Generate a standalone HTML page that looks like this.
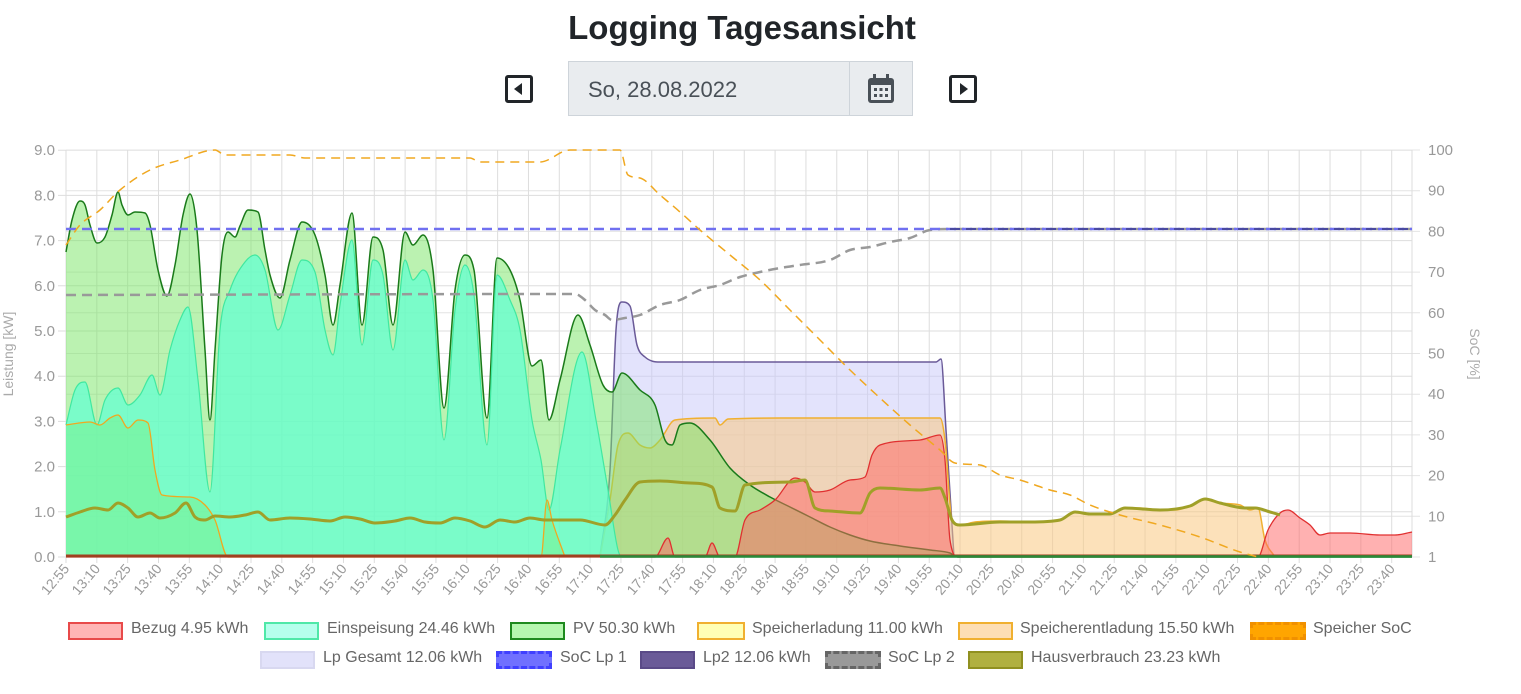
<!DOCTYPE html>
<html><head><meta charset="utf-8"><style>
body{margin:0;width:1521px;height:694px;background:#fff;font-family:"Liberation Sans",sans-serif;overflow:hidden;position:relative}
.t{position:absolute;left:0;width:1484px;text-align:center;top:9px;font-size:33px;font-weight:bold;color:#212529}
.db{position:absolute;left:568px;top:61px;width:345px;height:55px;background:#e9ecef;border:1px solid #ced4da;box-sizing:border-box}
.db span{position:absolute;left:19px;top:15px;font-size:22px;color:#495057}
.db .dv{position:absolute;left:280px;top:0;width:1px;height:53px;background:#ced4da}
.btn{position:absolute;top:75px;width:22px;height:22px;border:3px solid #212529;border-radius:3px}
.lg{position:absolute;font-size:16px;color:#666;white-space:nowrap}
.bx{position:absolute;width:51px;height:14px;border:2px solid}
</style></head><body>
<div class="t">Logging Tagesansicht</div>
<div class="btn" style="left:505px"><div style="position:absolute;left:6px;top:5px;border-right:8px solid #212529;border-top:6px solid transparent;border-bottom:6px solid transparent"></div></div>
<div class="db"><span>So, 28.08.2022</span><div class="dv"></div>
<svg style="position:absolute;left:297px;top:11px" width="30" height="32"><rect x="2" y="5" width="26" height="25" rx="3" fill="#495057"/><rect x="7" y="1" width="3" height="7" fill="#495057"/><rect x="20" y="1" width="3" height="7" fill="#495057"/><rect x="5" y="12" width="20" height="15" fill="#e9ecef"/><g fill="#495057"><rect x="8" y="15" width="3" height="3"/><rect x="13.5" y="15" width="3" height="3"/><rect x="19" y="15" width="3" height="3"/><rect x="8" y="21" width="3" height="3"/><rect x="13.5" y="21" width="3" height="3"/><rect x="19" y="21" width="3" height="3"/></g></svg></div>
<div class="btn" style="left:949px"><div style="position:absolute;left:8px;top:5px;border-left:8px solid #212529;border-top:6px solid transparent;border-bottom:6px solid transparent"></div></div>
<svg id="c" style="position:absolute;left:0;top:0" width="1521" height="694"></svg>
<div class="bx" style="left:68px;top:622px;background:rgba(255,120,120,.55);border-color:#e84a4a"></div><div class="lg" style="left:131px;top:620px">Bezug 4.95 kWh</div>
<div class="bx" style="left:264px;top:622px;background:rgba(120,255,220,.55);border-color:#4fe8a8"></div><div class="lg" style="left:327px;top:620px">Einspeisung 24.46 kWh</div>
<div class="bx" style="left:510px;top:622px;background:rgba(120,240,110,.55);border-color:#1e8a1e"></div><div class="lg" style="left:573px;top:620px">PV 50.30 kWh</div>
<div class="bx" style="left:697px;top:622px;width:44px;background:rgba(255,255,150,.7);border-color:#f0b030"></div><div class="lg" style="left:752px;top:620px">Speicherladung 11.00 kWh</div>
<div class="bx" style="left:958px;top:622px;background:rgba(252,200,130,.6);border-color:#f0b030"></div><div class="lg" style="left:1020px;top:620px">Speicherentladung 15.50 kWh</div>
<div class="bx" style="left:1250px;top:622px;background:#ffa500;border:3px dashed #f09000;height:12px;width:50px"></div><div class="lg" style="left:1313px;top:620px">Speicher SoC</div>
<div class="bx" style="left:260px;top:651px;background:#e2e2fa;border-color:#d8d8f0"></div><div class="lg" style="left:323px;top:649px">Lp Gesamt 12.06 kWh</div>
<div class="bx" style="left:496px;top:651px;background:#7070ff;border:3px dashed #4040ff;height:12px;width:50px"></div><div class="lg" style="left:560px;top:649px">SoC Lp 1</div>
<div class="bx" style="left:640px;top:651px;background:#6a5a98;border-color:#5a4a88"></div><div class="lg" style="left:703px;top:649px">Lp2 12.06 kWh</div>
<div class="bx" style="left:825px;top:651px;background:#999;border:3px dashed #666;height:12px;width:50px"></div><div class="lg" style="left:888px;top:649px">SoC Lp 2</div>
<div class="bx" style="left:968px;top:651px;background:#b0b040;border-color:#909020"></div><div class="lg" style="left:1031px;top:649px">Hausverbrauch 23.23 kWh</div>
<script>
var s=document.getElementById('c'),h='';
var L=66,R=1412,T=150,B=557;
for(var i=0;i<=9;i++){var y=B-45.2*i;h+='<line x1="'+(L-8)+'" x2="'+R+'" y1="'+y+'" y2="'+y+'" stroke="#ddd"/>';h+='<text x="55" y="'+(y+5)+'" text-anchor="end" font-size="15" fill="#999">'+i+'.0</text>';}
for(var i=0;i<=10;i++){var y=B-40.7*i;h+='<line x1="'+L+'" x2="'+(R+8)+'" y1="'+y+'" y2="'+y+'" stroke="#e4e4e4"/>';h+='<text x="1428" y="'+(y+5)+'" font-size="15" fill="#999">'+(i==0?1:i*10)+'</text>';}
for(var k=0;k<=43;k++){var x=L+k*30.83;var m=12*60+55+k*15;var lb=Math.floor(m/60)+':'+('0'+m%60).slice(-2);h+='<line x1="'+x+'" x2="'+x+'" y1="'+T+'" y2="'+(B+6)+'" stroke="#ddd"/>';h+='<text transform="translate('+(x+4)+','+(B+12)+') rotate(-50)" text-anchor="end" font-size="14" fill="#999">'+lb+'</text>';}
h+='<line x1="'+R+'" x2="'+R+'" y1="'+T+'" y2="'+B+'" stroke="#ddd"/>';
h+='<text transform="translate(13,354) rotate(-90)" text-anchor="middle" font-size="14" fill="#aaa">Leistung [kW]</text>';
h+='<text transform="translate(1470,354) rotate(90)" text-anchor="middle" font-size="14" fill="#aaa">SoC [%]</text>';
function P(p){var n=p.length,d=[],m=[];for(var i=0;i<n-1;i++)d[i]=(p[i+1][1]-p[i][1])/(p[i+1][0]-p[i][0]);
m[0]=d[0];m[n-1]=d[n-2];for(var i=1;i<n-1;i++){m[i]=(d[i-1]*d[i]<=0)?0:(d[i-1]+d[i])/2;}
for(var i=0;i<n-1;i++){if(d[i]==0){m[i]=0;m[i+1]=0;continue;}var a=m[i]/d[i],b=m[i+1]/d[i],q=a*a+b*b;if(q>9){var t=3/Math.sqrt(q);m[i]=t*a*d[i];m[i+1]=t*b*d[i];}}
var r='M'+p[0][0]+','+p[0][1];for(var i=0;i<n-1;i++){var dx=(p[i+1][0]-p[i][0])/3;r+=' C'+(p[i][0]+dx)+','+(p[i][1]+m[i]*dx)+' '+(p[i+1][0]-dx)+','+(p[i+1][1]-m[i+1]*dx)+' '+p[i+1][0]+','+p[i+1][1];}return r;}
function A(p,f,st,w,dash){var d=P(p);if(f)h+='<path d="'+d+' L'+p[p.length-1][0]+','+B+' L'+p[0][0]+','+B+'Z" fill="'+f+'"/>';if(st)h+='<path d="'+d+'" fill="none" stroke="'+st+'" stroke-width="'+w+'"'+(dash?' stroke-dasharray="'+dash+'"':'')+'/>';}
var pv=[[66,252],[72,220],[80,201],[85,205],[90,225],[97,243],[105,237],[112,215],[118,192],[122,205],[128,215],[135,212],[145,213],[150,225],[158,270],[167,296],[175,265],[183,215],[190,194],[197,230],[205,350],[210,420],[215,350],[222,255],[228,232],[235,237],[240,226],[248,210],[258,212],[265,250],[270,275],[280,298],[290,260],[302,222],[315,235],[325,275],[333,325],[340,285],[352,213],[362,325],[373,237],[383,250],[393,325],[405,232],[413,245],[423,235],[433,270],[444,408],[455,290],[465,255],[474,270],[487,418],[497,258],[510,270],[520,300],[532,366],[541,360],[549,420],[560,380],[578,315],[590,345],[603,385],[612,392],[622,373],[640,390],[655,405],[665,440],[672,445],[680,425],[690,423],[710,440],[730,468],[750,485],[770,497],[790,507],[810,517],[830,527],[850,535],[870,541],[900,546],[930,550],[950,553],[958,557],[1412,557]];
var ei=[[66,425],[75,390],[85,382],[97,425],[105,400],[118,388],[128,405],[140,395],[152,375],[160,395],[170,350],[180,320],[188,307],[198,380],[210,492],[220,330],[230,290],[245,262],[255,255],[265,270],[278,330],[290,295],[302,260],[315,272],[325,330],[333,355],[340,305],[352,240],[362,345],[373,260],[383,275],[393,350],[405,260],[413,280],[423,270],[433,300],[444,440],[455,310],[465,265],[474,295],[487,445],[497,275],[510,300],[520,330],[532,420],[541,460],[549,510],[560,450],[582,352],[596,420],[608,490],[618,550],[622,557],[1412,557]];
var sl=[[66,425],[90,422],[100,425],[110,418],[118,415],[128,428],[138,420],[148,423],[155,470],[162,495],[190,497],[205,505],[215,520],[228,557],[541,557],[547,500],[552,520],[565,557]];
var se=[[600,557],[610,500],[618,445],[628,433],[640,445],[650,448],[660,440],[675,420],[715,418],[720,425],[728,419],[780,418],[940,418],[945,440],[952,520],[960,525],[975,522],[1000,521],[1030,522],[1060,520],[1075,512],[1090,514],[1110,514],[1125,508],[1140,508],[1160,510],[1175,510],[1190,506],[1205,499],[1220,503],[1240,505],[1250,510],[1258,508],[1265,540],[1275,557]];
var lp=[[600,557],[610,470],[616,330],[622,302],[630,306],[637,345],[645,357],[660,362],[700,362],[760,362],[800,362],[860,362],[900,362],[936,362],[941,359],[946,430],[954,557]];
var bz=[[66,557],[655,557],[668,538],[675,557],[705,557],[712,543],[720,557],[735,557],[745,520],[760,510],[775,500],[795,478],[805,482],[815,492],[830,490],[850,480],[865,477],[872,455],[880,445],[920,440],[940,435],[945,460],[950,540],[958,557],[1258,557],[1268,530],[1280,513],[1288,510],[1300,518],[1310,525],[1320,535],[1330,533],[1350,533],[1380,535],[1395,535],[1412,532]];
var hv=[[66,517],[80,512],[95,508],[108,510],[118,503],[128,508],[138,517],[150,513],[160,518],[175,513],[186,503],[195,517],[205,520],[215,516],[230,517],[245,515],[258,512],[270,520],[290,518],[310,519],[330,521],[345,517],[360,519],[375,523],[395,521],[410,518],[425,522],[440,523],[455,518],[470,521],[485,527],[500,520],[515,522],[530,518],[545,520],[560,520],[580,520],[605,525],[615,515],[625,500],[640,482],[660,481],[690,483],[712,487],[720,508],[735,511],[745,485],[790,482],[805,480],[815,508],[830,511],[860,513],[870,493],[880,488],[920,490],[940,488],[945,498],[952,520],[960,525],[1000,522],[1030,522],[1060,520],[1075,512],[1090,514],[1110,514],[1125,508],[1160,510],[1190,506],[1205,499],[1220,503],[1245,508],[1255,508],[1270,512],[1280,515]];
A(lp,'rgba(200,200,250,.5)','#6a5a98',1.5);
A(se,'rgba(250,200,130,.55)','#f0b030',1.5);
A(pv,'rgba(120,230,100,.5)','#1a7a1a',1.5);
A(ei,'rgba(100,255,210,.75)','#40e8a0',1.2);
A(sl,'rgba(120,240,140,.5)','#f0a820',1.3);
A(bz,'rgba(255,100,100,.5)','#e03030',1.3);
A(hv,null,'#a0a028',3);
h+='<line x1="66" x2="1412" y1="556" y2="556" stroke="#a04020" stroke-width="3"/>';
h+='<line x1="600" x2="1412" y1="556.5" y2="556.5" stroke="#2a8a3a" stroke-width="2.5"/>';
A([[66,295],[575,294],[585,300],[595,310],[605,315],[612,320],[625,318],[640,315],[660,305],[680,300],[700,290],[720,285],[740,277],[760,272],[780,268],[800,265],[830,260],[850,250],[870,247],[890,242],[910,238],[930,230],[950,229],[1412,229]],null,'#999',2.5,'10,6');
h+='<line x1="66" x2="1412" y1="229" y2="229" stroke="#7070f0" stroke-width="2.5" stroke-dasharray="10,6"/>';
h+='<line x1="950" x2="1412" y1="229" y2="229" stroke="#4a4aa0" stroke-width="2" stroke-dasharray="10,6"/>';
A([[66,245],[80,225],[100,210],[120,190],[150,170],[180,160],[215,150],[225,155],[290,155],[305,158],[470,158],[480,162],[540,162],[570,150],[620,150],[628,175],[640,178],[660,195],[680,212],[700,230],[730,255],[760,280],[790,310],[820,340],[850,370],[880,398],[910,425],[940,450],[955,463],[980,465],[1000,475],[1020,480],[1050,490],[1070,495],[1090,505],[1120,515],[1160,525],[1200,537],[1240,552],[1258,557]],null,'#f0a820',1.5,'9,6');
s.innerHTML=h;
</script>
</body></html>
